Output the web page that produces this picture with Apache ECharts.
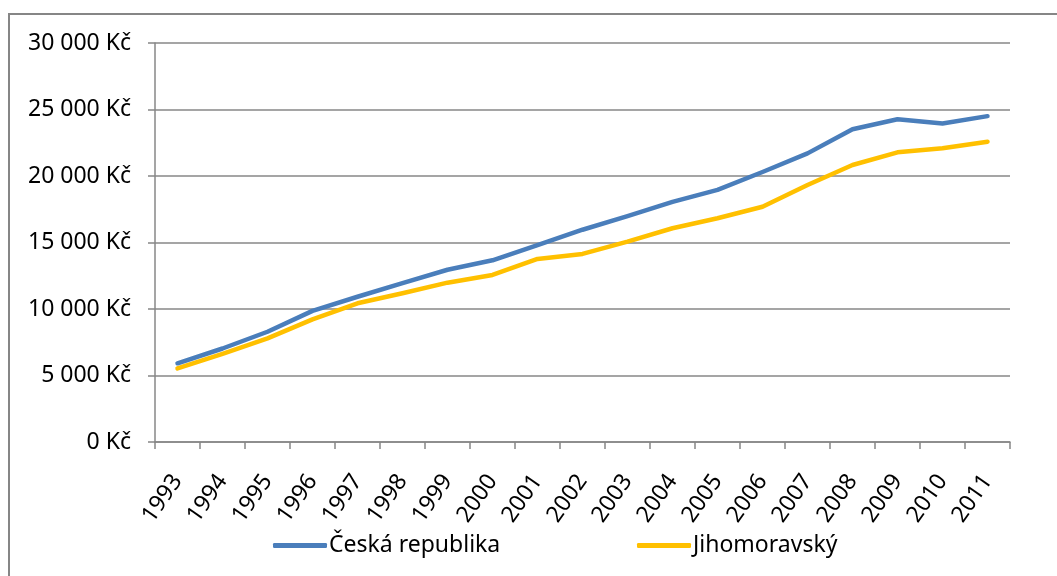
<!DOCTYPE html>
<html>
<head>
<meta charset="utf-8">
<style>
  html, body { margin: 0; padding: 0; background: #fff; }
  #frame {
    position: absolute; left: 8px; top: 13px; width: 1100px; height: 600px;
    border-top: 2px solid #868686; border-left: 2px solid #868686;
  }
  #chart { position: absolute; left: 0; top: 0; width: 1057px; height: 576px; }
</style>
<script src="https://cdn.jsdelivr.net/npm/echarts@6/dist/echarts.min.js"></script>
</head>
<body>
<div id="frame"></div>
<div id="chart"></div>
<script>
// years on the x axis
const years = ['1993', '1994', '1995', '1996', '1997', '1998', '1999', '2000', '2001', '2002',
  '2003', '2004', '2005', '2006', '2007', '2008', '2009', '2010', '2011'];

// average monthly wage, Kč
const ceskaRepublika = [5920, 7030, 8290, 9860, 10920, 11950, 12950, 13660, 14800, 15960,
  16980, 18060, 18960, 20300, 21700, 23520, 24270, 23950, 24500];
const jihomoravsky = [5530, 6620, 7790, 9220, 10430, 11180, 11980, 12560, 13760, 14140,
  15060, 16070, 16820, 17690, 19320, 20830, 21780, 22080, 22580];

const seriesNames = ['Česká republika', 'Jihomoravský'];
const yTicks = [0, 5000, 10000, 15000, 20000, 25000, 30000];

const BLUE = '#4a7ebb';
const YELLOW = '#ffc000';
const GRID = '#878787';
const FONT = '"Noto Sans", "Open Sans", sans-serif';

const fmtKc = v => {
  if (v === 0) return '0 Kč';
  const s = String(v);
  return s.slice(0, s.length - 3) + ' ' + s.slice(-3) + ' Kč';
};

const chart = echarts.init(document.getElementById('chart'), null, { renderer: 'canvas' });

const legendCommon = {
  bottom: 14,
  itemWidth: 54,
  itemHeight: 5,
  icon: 'roundRect',
  itemGap: 0,
  textStyle: { fontFamily: FONT, fontSize: 23, color: '#000', padding: [0, 0, 0, -3] },
};

chart.setOption({
  animation: false,
  backgroundColor: 'transparent',
  grid: { left: 155, right: 47, top: 43, bottom: 134, containLabel: false },
  legend: [
    Object.assign({ left: 268, data: [seriesNames[0]] }, legendCommon),
    Object.assign({ left: 632, data: [seriesNames[1]] }, legendCommon),
  ],
  xAxis: {
    type: 'category',
    data: years,
    boundaryGap: true,
    axisLine: { lineStyle: { color: GRID, width: 1.5 } },
    axisTick: { show: true, length: 7, lineStyle: { color: GRID, width: 1.5 } },
    axisLabel: {
      rotate: 55, margin: 35, interval: 0, hideOverlap: false,
      verticalAlign: 'middle',
      fontFamily: FONT, fontSize: 23, color: '#000',
    },
    splitLine: { show: false },
  },
  yAxis: {
    type: 'value',
    min: yTicks[0],
    max: yTicks[yTicks.length - 1],
    interval: 5000,
    axisLine: { show: true, lineStyle: { color: GRID, width: 1.5 } },
    axisTick: { show: true, length: 7, lineStyle: { color: GRID, width: 1.5 } },
    axisLabel: {
      margin: 24, fontFamily: FONT, fontSize: 23, color: '#000',
      formatter: fmtKc,
    },
    splitLine: { show: true, lineStyle: { color: GRID, width: 1.5 } },
  },
  series: [
    {
      name: seriesNames[0],
      type: 'line',
      data: ceskaRepublika,
      showSymbol: false,
      symbol: 'none',
      lineStyle: { color: BLUE, width: 4.5, cap: 'round', join: 'round' },
      itemStyle: { color: BLUE },
      z: 3,
    },
    {
      name: seriesNames[1],
      type: 'line',
      data: jihomoravsky,
      showSymbol: false,
      symbol: 'none',
      lineStyle: { color: YELLOW, width: 4.5, cap: 'round', join: 'round' },
      itemStyle: { color: YELLOW },
      z: 2,
    },
  ],
});
</script>
</body>
</html>
